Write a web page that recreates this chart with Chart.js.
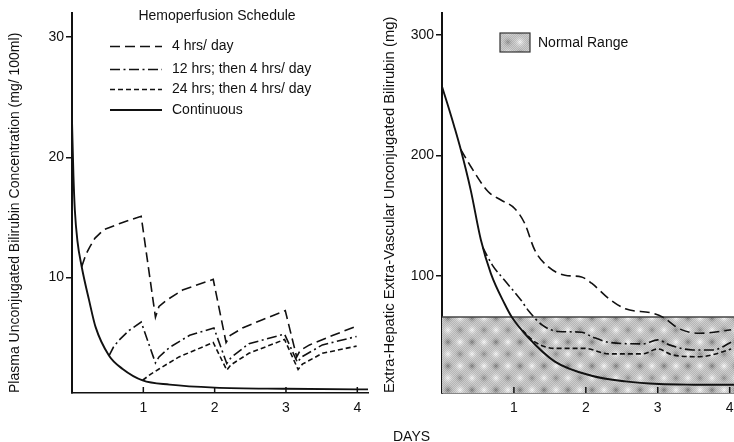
<!DOCTYPE html>
<html>
<head>
<meta charset="utf-8">
<script src="https://cdn.jsdelivr.net/npm/chart.js@4.4.1/dist/chart.umd.min.js"></script>
<style>
  html, body { margin: 0; padding: 0; background: #fff; }
  #wrap { position: relative; width: 734px; height: 442px; overflow: hidden; background: #fff; }
  #c1 { position: absolute; left: 0; top: 0; }
  #c2 { position: absolute; left: 370px; top: 0; }
  #days { position: absolute; left: 393px; top: 429px; font: 14px "Liberation Sans", Arial, sans-serif; color: #111; line-height: 14px; }
</style>
</head>
<body>
<div id="wrap">
  <canvas id="c1" width="370" height="442"></canvas>
  <canvas id="c2" width="364" height="442"></canvas>
  <div id="days">DAYS</div>
</div>
<script>
// ---------- DATA ----------
const seriesLabels = ['4 hrs/ day', '12 hrs; then 4 hrs/ day', '24 hrs; then 4 hrs/ day', 'Continuous'];
const legendTitle = 'Hemoperfusion Schedule';
const normalRangeLabel = 'Normal Range';
const dayTicks = [1, 2, 3, 4];
const plasmaTicks = [10, 20, 30];
const evTicks = [100, 200, 300];
const plasmaTitle = 'Plasma Unconjugated Bilirubin Concentration (mg/ 100ml)';
const evTitle = 'Extra-Hepatic Extra-Vascular Unconjugated Bilirubin (mg)';

// Left panel: plasma concentration (mg/100ml)
const plasma4hDays  = [0.136, 0.182, 0.215, 0.252, 0.32, 0.44, 0.67, 0.97, 1.17, 1.22, 1.32, 1.55, 1.98, 2.16, 2.22, 2.39, 2.67, 2.99, 3.15, 3.2, 3.33, 3.66, 3.99];
const plasma4hVals  = [10.9, 11.7, 12.15, 12.57, 13.26, 13.96, 14.5, 15.1, 6.7, 7.6, 8.1, 8.96, 9.85, 4.6, 5.2, 5.8, 6.5, 7.25, 3.4, 3.95, 4.4, 5.2, 5.96];
const plasma12hDays = [0.52, 0.58, 0.66, 0.8, 0.97, 1.17, 1.22, 1.37, 1.65, 1.99, 2.17, 2.23, 2.48, 2.98, 3.16, 3.22, 3.51, 3.99];
const plasma12hVals = [3.5, 4.2, 4.8, 5.6, 6.3, 2.9, 3.4, 4.2, 5.2, 5.8, 2.85, 3.35, 4.5, 5.3, 2.95, 3.4, 4.4, 5.1];
const plasma24hDays = [0.99, 1.1, 1.22, 1.5, 1.98, 2.17, 2.23, 2.48, 2.98, 3.17, 3.23, 3.51, 3.99];
const plasma24hVals = [1.46, 1.95, 2.4, 3.4, 4.6, 2.3, 2.75, 3.7, 4.85, 2.35, 2.8, 3.7, 4.3];
const plasmaContDays = [0, 0.02, 0.04, 0.075, 0.136, 0.24, 0.33, 0.52, 0.71, 0.99, 1.37, 2.0, 3.0, 4.0, 4.15];
const plasmaContVals = [23, 18.5, 15.6, 13.1, 10.9, 8.1, 5.9, 3.5, 2.4, 1.45, 1.1, 0.85, 0.75, 0.7, 0.7];

// Right panel: extra-hepatic extra-vascular bilirubin (mg)
const ev4hDays  = [0.26, 0.40, 0.64, 0.82, 1.01, 1.15, 1.29, 1.48, 1.71, 1.94, 2.08, 2.32, 2.55, 2.93, 3.07, 3.3, 3.58, 3.95, 4.02];
const ev4hVals  = [205, 190.8, 170, 163, 156, 143.6, 121.4, 107.5, 100.6, 99.2, 94, 81.2, 72.8, 69.2, 65.9, 56.2, 52.5, 54.8, 55.5];
const ev12hDays = [0.565, 0.7, 0.87, 1.1, 1.2, 1.4, 1.62, 1.94, 2.08, 2.32, 2.79, 3.0, 3.16, 3.49, 3.77, 4.02];
const ev12hVals = [124, 109, 96.4, 79.8, 71.4, 59, 54, 53.4, 49.8, 45, 43.7, 47, 42.9, 38.7, 38.7, 45];
const ev24hDays = [1.12, 1.3, 1.57, 1.99, 2.32, 2.79, 3.0, 3.21, 3.58, 3.95, 4.02];
const ev24hVals = [55, 45, 40, 40, 35.4, 35.4, 39.5, 34.5, 33.1, 38, 39.5];
const evContDays = [0, 0.074, 0.17, 0.26, 0.40, 0.54, 0.68, 0.87, 0.97, 1.2, 1.57, 2.08, 2.55, 3.02, 3.5, 4.06];
const evContVals = [257, 243, 224, 205, 171, 130, 102, 77, 66, 49, 29, 17.3, 12.6, 10.4, 9.9, 9.8];
const normalRangeTop = 66;

// ---------- STYLE ----------
const INK = '#111';
const FONT = '"Liberation Sans", Arial, Helvetica, sans-serif';
Chart.defaults.font.family = FONT;
Chart.defaults.color = INK;
const dashes = [[10, 5], [10, 3.5, 2, 3.5], [5, 3], []];
const widths = [1.6, 1.6, 1.6, 1.9];

const toXY = (xs, ys) => xs.map((x, i) => ({ x: x, y: ys[i] }));

function makePattern() {
  const S = 24;
  const c = document.createElement('canvas');
  c.width = S; c.height = S;
  const g = c.getContext('2d');
  g.fillStyle = '#c4c4c4';
  g.fillRect(0, 0, S, S);
  const blob = (x, y, col, r) => {
    const gr = g.createRadialGradient(x, y, 0, x, y, r);
    gr.addColorStop(0, col);
    gr.addColorStop(1, 'rgba(196,196,196,0)');
    g.fillStyle = gr;
    g.fillRect(x - r, y - r, 2 * r, 2 * r);
  };
  blob(6, 6, 'rgba(115,115,115,1)', 6.5);
  blob(18, 18, 'rgba(130,130,130,0.9)', 6.5);
  blob(18, 6, 'rgba(255,255,255,1)', 7.5);
  blob(6, 18, 'rgba(252,252,252,1)', 7.5);
  for (let i = 0; i < S; i++) {
    for (let j = 0; j < S; j++) {
      g.fillStyle = ((i + j) % 2 === 0) ? 'rgba(255,255,255,0.14)' : 'rgba(0,0,0,0.07)';
      g.fillRect(i, j, 1, 1);
    }
  }
  return g.createPattern(c, 'repeat');
}
const rangePattern = makePattern();

// inner x ticks
const innerTicks = {
  id: 'innerTicks',
  afterDatasetsDraw(chart) {
    const xs = chart.scales.x, ctx = chart.ctx;
    ctx.save();
    ctx.strokeStyle = INK; ctx.lineWidth = 1.5;
    xs.ticks.forEach(t => {
      const px = xs.getPixelForValue(t.value);
      ctx.beginPath(); ctx.moveTo(px, xs.top); ctx.lineTo(px, xs.top - 6); ctx.stroke();
    });
    ctx.restore();
  }
};

// schedule legend for left panel
const schedLegend = {
  id: 'schedLegend',
  afterDraw(chart, args, opts) {
    if (!opts.show) return;
    const ctx = chart.ctx;
    ctx.save();
    ctx.fillStyle = INK;
    ctx.font = '14px ' + FONT;
    ctx.textBaseline = 'middle';
    ctx.textAlign = 'center';
    ctx.fillText(legendTitle, opts.titleX, opts.titleY);
    ctx.textAlign = 'left';
    chart.data.datasets.forEach((ds, i) => {
      const y = opts.rows[i];
      ctx.strokeStyle = ds.borderColor;
      ctx.lineWidth = ds.borderWidth;
      ctx.setLineDash(ds.borderDash || []);
      ctx.beginPath(); ctx.moveTo(opts.x0, y); ctx.lineTo(opts.x1, y); ctx.stroke();
      ctx.setLineDash([]);
      ctx.fillText(ds.label, opts.textX, y);
    });
    ctx.restore();
  }
};

// normal range legend for right panel
const rangeLegend = {
  id: 'rangeLegend',
  afterDraw(chart, args, opts) {
    if (!opts.show) return;
    const ctx = chart.ctx;
    const ds = chart.data.datasets.find(d => d.isRange);
    ctx.save();
    ctx.fillStyle = ds.backgroundColor;
    ctx.fillRect(opts.x, opts.y, opts.w, opts.h);
    ctx.strokeStyle = '#333'; ctx.lineWidth = 1.2;
    ctx.strokeRect(opts.x, opts.y, opts.w, opts.h);
    ctx.fillStyle = INK;
    ctx.font = '14px ' + FONT;
    ctx.textBaseline = 'middle';
    ctx.fillText(ds.label, opts.x + opts.w + 8, opts.y + opts.h / 2 + 0.5);
    ctx.restore();
  }
};

function lineDs(label, xs, ys, i, mode) {
  return {
    label: label, data: toXY(xs, ys),
    borderColor: INK, borderWidth: widths[i], borderDash: dashes[i],
    pointRadius: 0, fill: false, order: 0,
    tension: mode === 'straight' ? 0 : 0.4,
    cubicInterpolationMode: mode === 'straight' ? 'default' : 'monotone'
  };
}

function baseOptions(cfg) {
  return {
    responsive: false, animation: false, devicePixelRatio: 1,
    layout: { padding: { top: 13, right: cfg.padRight, left: 0, bottom: 0 } },
    plugins: {
      legend: { display: false }, tooltip: { enabled: false },
      schedLegend: cfg.sched || { show: false },
      rangeLegend: cfg.range || { show: false }
    },
    scales: {
      x: {
        type: 'linear', min: 0, max: cfg.xMax,
        afterBuildTicks: s => { s.ticks = dayTicks.map(v => ({ value: v })); },
        afterFit: s => { s.height = 49; s.paddingLeft = 0; s.paddingRight = 0; },
        grid: { display: false, drawTicks: false },
        border: { display: true, color: INK, width: 1.6 },
        ticks: { padding: 7, font: { size: 14 }, color: INK, maxRotation: 0 }
      },
      y: {
        type: 'linear', min: cfg.yMin, max: cfg.yMax,
        afterBuildTicks: s => { s.ticks = cfg.yTicks.map(v => ({ value: v })); },
        afterFit: s => { s.width = 72; s.paddingTop = 0; s.paddingBottom = 0; },
        grid: { display: true, drawOnChartArea: false, drawTicks: true, tickLength: 6, color: INK, lineWidth: 1.5 },
        border: { display: true, color: INK, width: 2 },
        ticks: { padding: 2, font: { size: 14 }, color: INK },
        title: { display: true, text: cfg.title, align: 'start', color: INK,
                 font: { size: cfg.titleSize }, padding: { top: cfg.titlePad, bottom: 0 } }
      }
    }
  };
}

// Left chart
new Chart(document.getElementById('c1'), {
  type: 'line',
  data: {
    datasets: [
      lineDs(seriesLabels[0], plasma4hDays, plasma4hVals, 0, 'straight'),
      lineDs(seriesLabels[1], plasma12hDays, plasma12hVals, 1, 'straight'),
      lineDs(seriesLabels[2], plasma24hDays, plasma24hVals, 2, 'straight'),
      lineDs(seriesLabels[3], plasmaContDays, plasmaContVals, 3, 'smooth')
    ]
  },
  options: baseOptions({
    padRight: 2, xMax: 4.15, yMin: 0.4, yMax: 32, yTicks: plasmaTicks,
    title: plasmaTitle, titlePad: 7, titleSize: 14,
    sched: { show: true, titleX: 217, titleY: 16, x0: 110, x1: 162, textX: 172, rows: [46.5, 69.5, 89.5, 110] }
  }),
  plugins: [innerTicks, schedLegend]
});

// Right chart
new Chart(document.getElementById('c2'), {
  type: 'line',
  data: {
    datasets: [
      lineDs(seriesLabels[0], ev4hDays, ev4hVals, 0, 'smooth'),
      lineDs(seriesLabels[1], ev12hDays, ev12hVals, 1, 'smooth'),
      lineDs(seriesLabels[2], ev24hDays, ev24hVals, 2, 'smooth'),
      lineDs(seriesLabels[3], evContDays, evContVals, 3, 'smooth'),
      {
        label: normalRangeLabel, isRange: true,
        data: toXY([0, 4.06], [normalRangeTop, normalRangeTop]),
        borderColor: '#444', borderWidth: 1.3, backgroundColor: rangePattern,
        pointRadius: 0, fill: 'start', order: 5, tension: 0
      }
    ]
  },
  options: baseOptions({
    padRight: 0, xMax: 4.06, yMin: 3, yMax: 318, yTicks: evTicks,
    title: evTitle, titlePad: 11, titleSize: 14.8,
    range: { show: true, x: 130, y: 33, w: 30, h: 19 }
  }),
  plugins: [innerTicks, rangeLegend]
});
</script>
</body>
</html>
